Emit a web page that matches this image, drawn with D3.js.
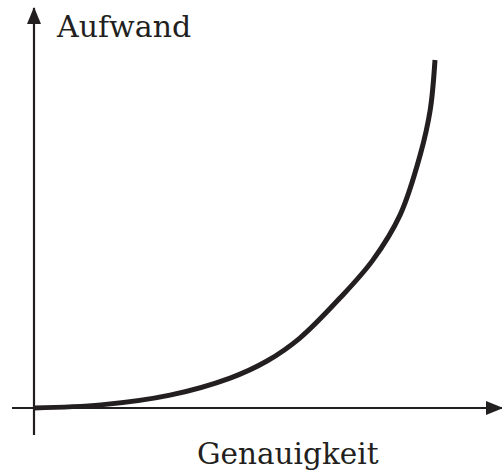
<!DOCTYPE html>
<html>
<head>
<meta charset="utf-8">
<script src="https://cdn.jsdelivr.net/npm/d3@7"></script>
<style>
  html, body { margin: 0; padding: 0; background: #fff; }
  svg { display: block; }
  text { font-family: "DejaVu Serif", "Liberation Serif", serif; fill: #231f20; }
</style>
</head>
<body>
<svg id="chart" width="502" height="475"></svg>
<script>
// Effort needed (y) as a function of required accuracy (x), both in arbitrary units 0–100
const accuracy = [0, 16.7, 33.9, 48.9, 58.1, 66.3, 76.3, 84.5, 91.3, 96.3, 98.8, 100];
const effort   = [0, 0.9, 3.7, 8.6, 13.5, 20.1, 31.6, 42.5, 55.5, 72.7, 85.6, 100];
const xLabel = "Genauigkeit";
const yLabel = "Aufwand";

const ink = "#231f20";
const svg = d3.select("#chart");

const x = d3.scaleLinear().domain([0, 100]).range([34, 435]);
const y = d3.scaleLinear().domain([0, 100]).range([408, 60]);

// solid triangular arrow heads
const defs = svg.append("defs");
defs.append("marker")
  .attr("id", "arrow")
  .attr("viewBox", "0 0 17 14")
  .attr("refX", 16).attr("refY", 7)
  .attr("markerWidth", 17).attr("markerHeight", 14)
  .attr("markerUnits", "userSpaceOnUse")
  .attr("orient", "auto")
  .append("path")
  .attr("d", "M0,0 L17,7 L0,14 Z")
  .attr("fill", ink);

// horizontal axis
svg.append("line")
  .attr("x1", 12).attr("y1", y(0))
  .attr("x2", 502).attr("y2", y(0))
  .attr("stroke", ink).attr("stroke-width", 2.2)
  .attr("marker-end", "url(#arrow)");

// vertical axis
svg.append("line")
  .attr("x1", x(0)).attr("y1", 435)
  .attr("x2", x(0)).attr("y2", 8)
  .attr("stroke", ink).attr("stroke-width", 2.2)
  .attr("marker-end", "url(#arrow)");

// effort curve
const line = d3.line()
  .x((d, i) => x(accuracy[i]))
  .y(d => y(d))
  .curve(d3.curveCatmullRom.alpha(0.5));

svg.append("path")
  .attr("d", line(effort))
  .attr("fill", "none")
  .attr("stroke", ink)
  .attr("stroke-width", 5)
  .attr("stroke-linecap", "butt");

// axis titles
svg.append("text")
  .attr("x", 57).attr("y", 37)
  .attr("font-size", 30)
  .text(yLabel);

svg.append("text")
  .attr("x", 197).attr("y", 464)
  .attr("font-size", 29.5)
  .text(xLabel);
</script>
</body>
</html>
